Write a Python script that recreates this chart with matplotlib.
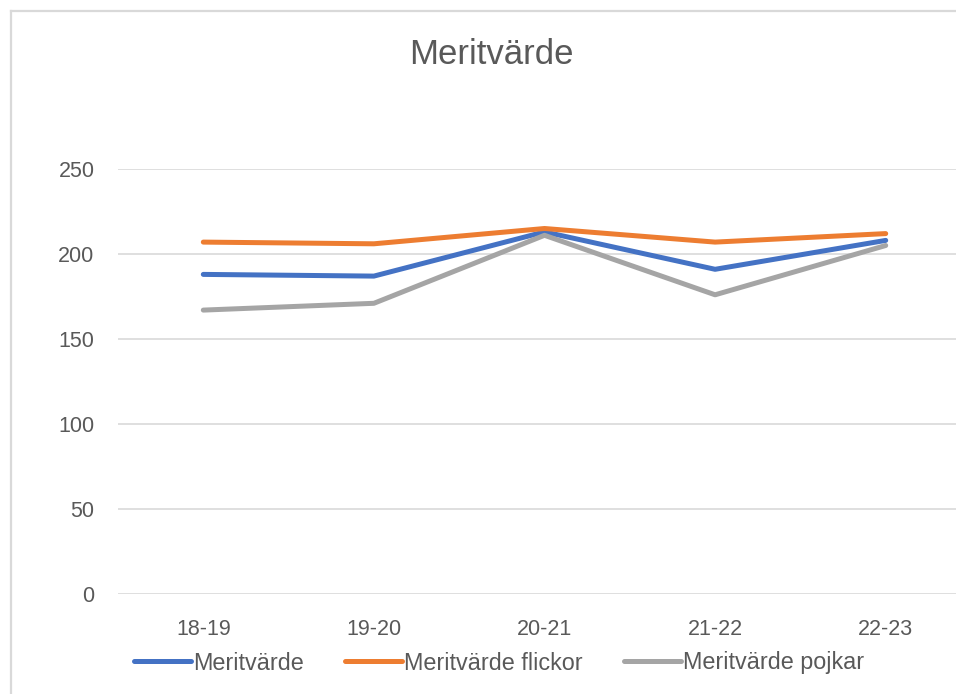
import matplotlib
matplotlib.use("Agg")
import matplotlib.pyplot as plt
from matplotlib.lines import Line2D

plt.rcParams['font.family'] = ['Liberation Sans', 'DejaVu Sans']

categories = ["18-19", "19-20", "20-21", "21-22", "22-23"]
meritvarde = [188, 187, 213, 191, 208]
flickor = [207, 206, 215, 207, 212]
pojkar = [167, 171, 211, 176, 205]
yticks = [0, 50, 100, 150, 200, 250]

series = [
    ("Meritvärde", meritvarde, "#4472C4"),
    ("Meritvärde flickor", flickor, "#ED7D31"),
    ("Meritvärde pojkar", pojkar, "#A5A5A5"),
]

W, H = 956, 694
fig = plt.figure(figsize=(W / 100, H / 100), dpi=100)
fig.patch.set_facecolor("white")

# chart frame (left and top edges)
frame_kw = dict(color="#D9D9D9", linewidth=1.6, transform=fig.transFigure)
fig.add_artist(Line2D([11 / W, 11 / W], [0, 1 - 11 / H], **frame_kw))
fig.add_artist(Line2D([11 / W, 1], [1 - 11 / H, 1 - 11 / H], **frame_kw))

left, right, top, bottom = 118, 971, 169, 594
ax = fig.add_axes([left / W, 1 - bottom / H, (right - left) / W, (bottom - top) / H])
ax.set_facecolor("none")

x = list(range(len(categories)))
for name, vals, col in series:
    ax.plot(x, vals, color=col, linewidth=3.6, solid_capstyle="round",
            solid_joinstyle="round", label=name, zorder=3)

ax.set_xlim(-0.5, len(categories) - 0.5)
ax.set_ylim(0, 250)
ax.set_yticks(yticks)
ax.set_xticks(x)
ax.set_xticklabels(categories)
ax.grid(axis="y", color="#D9D9D9", linewidth=1.2, zorder=0)
ax.set_axisbelow(True)
for s in ax.spines.values():
    s.set_visible(False)
ax.tick_params(axis="both", length=0, labelsize=15.5, colors="#595959")
ax.tick_params(axis="y", pad=17)
ax.tick_params(axis="x", pad=18)

fig.text(491 / W, 1 - 55 / H, "Meritvärde", ha="center", va="center",
         fontsize=25, color="#595959")

handles, labels = ax.get_legend_handles_labels()
fig.legend(handles, labels, loc="center", bbox_to_anchor=(499 / W, 1 - 663 / H),
           ncol=3, frameon=False, fontsize=16.8, labelcolor="#595959",
           handlelength=2.45, handletextpad=0.1, columnspacing=1.75)

fig.savefig("out.png", dpi=100, facecolor="white")
